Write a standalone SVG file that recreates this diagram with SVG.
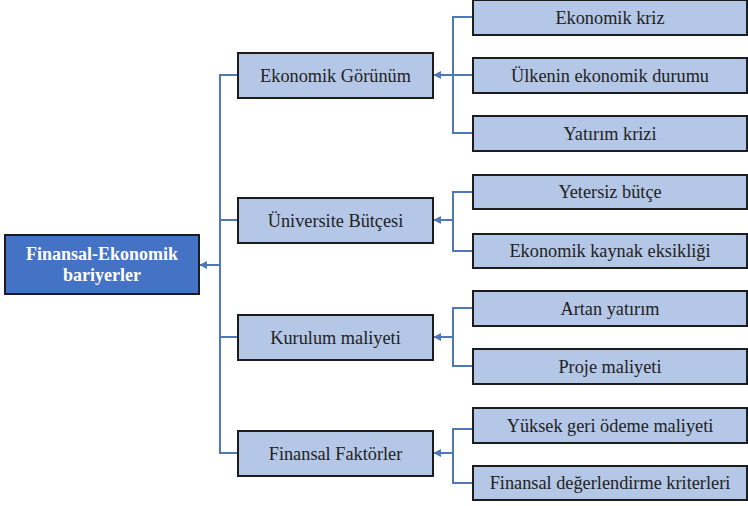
<svg xmlns="http://www.w3.org/2000/svg" width="748" height="506" viewBox="0 0 748 506">
  <defs>
    <marker id="arrow" viewBox="0 0 10 10" refX="9" refY="5" markerWidth="4" markerHeight="4" orient="auto">
      <path d="M0,0 L10,5 L0,10 Z" fill="#4f78b8"/>
    </marker>
  </defs>
  <style>
    .box { fill: #b4c7e7; stroke: #1c1c1c; stroke-width: 2; }
    .root { fill: #4472c4; stroke: #1c1c1c; stroke-width: 2; }
    .lbl { font-family: "Liberation Serif", "DejaVu Serif", serif; font-size: 18.3px; fill: #222; text-anchor: middle; }
    .rlbl { font-family: "Liberation Serif", "DejaVu Serif", serif; font-size: 18px; font-weight: bold; fill: #ffffff; text-anchor: middle; }
    .wire { fill: none; stroke: #4f78b8; stroke-width: 2; }
    .arr { fill: none; stroke: #4f78b8; stroke-width: 2; marker-end: url(#arrow); }
  </style>
  <rect width="748" height="506" fill="#ffffff"/>

  <g id="connectors">
    <!-- trunk from the root to the four categories -->
    <path class="wire" d="M238,75 H220 V453 H238 M220,220 H238 M220,337 H238"/>
    <path class="arr" d="M220,265 H200"/>
    <!-- Ekonomik Görünüm branch -->
    <path class="wire" d="M473,17 H453 V133 H473 M453,75 H473"/>
    <path class="arr" d="M453,75 H434"/>
    <!-- Üniversite Bütçesi branch -->
    <path class="wire" d="M473,192 H453 V251 H473"/>
    <path class="arr" d="M453,220 H434"/>
    <!-- Kurulum maliyeti branch -->
    <path class="wire" d="M473,308 H453 V366 H473"/>
    <path class="arr" d="M453,337 H434"/>
    <!-- Finansal Faktörler branch -->
    <path class="wire" d="M473,429 H453 V483 H473"/>
    <path class="arr" d="M453,453 H434"/>
  </g>

  <g id="root">
    <rect class="root" x="5" y="235" width="194" height="59"/>
    <text class="rlbl" x="102" y="260">Finansal-Ekonomik</text>
    <text class="rlbl" x="102" y="281">bariyerler</text>
  </g>

  <g id="ekonomik-gorunum">
    <rect class="box" x="238" y="53" width="195" height="45"/>
    <text class="lbl" x="335.5" y="81.5">Ekonomik Görünüm</text>
  </g>
  <g id="universite-butcesi">
    <rect class="box" x="238" y="198" width="195" height="45"/>
    <text class="lbl" x="335.5" y="226.5">Üniversite Bütçesi</text>
  </g>
  <g id="kurulum-maliyeti">
    <rect class="box" x="238" y="315" width="195" height="45"/>
    <text class="lbl" x="335.5" y="343.5">Kurulum maliyeti</text>
  </g>
  <g id="finansal-faktorler">
    <rect class="box" x="238" y="431" width="195" height="45"/>
    <text class="lbl" x="335.5" y="459.5">Finansal Faktörler</text>
  </g>

  <g id="ekonomik-kriz">
    <rect class="box" x="473" y="0" width="274" height="35"/>
    <text class="lbl" x="610" y="23.5">Ekonomik kriz</text>
  </g>
  <g id="ulkenin-durumu">
    <rect class="box" x="473" y="58" width="274" height="35"/>
    <text class="lbl" x="610" y="81.5">Ülkenin ekonomik durumu</text>
  </g>
  <g id="yatirim-krizi">
    <rect class="box" x="473" y="116" width="274" height="35"/>
    <text class="lbl" x="610" y="139.5">Yatırım krizi</text>
  </g>
  <g id="yetersiz-butce">
    <rect class="box" x="473" y="175" width="274" height="34"/>
    <text class="lbl" x="610" y="198">Yetersiz bütçe</text>
  </g>
  <g id="kaynak-eksikligi">
    <rect class="box" x="473" y="234" width="274" height="34"/>
    <text class="lbl" x="610" y="257">Ekonomik kaynak eksikliği</text>
  </g>
  <g id="artan-yatirim">
    <rect class="box" x="473" y="291" width="274" height="35"/>
    <text class="lbl" x="610" y="314.5">Artan yatırım</text>
  </g>
  <g id="proje-maliyeti">
    <rect class="box" x="473" y="349" width="274" height="35"/>
    <text class="lbl" x="610" y="372.5">Proje maliyeti</text>
  </g>
  <g id="geri-odeme">
    <rect class="box" x="473" y="408" width="274" height="35"/>
    <text class="lbl" x="610" y="431.5">Yüksek geri ödeme maliyeti</text>
  </g>
  <g id="degerlendirme-kriterleri">
    <rect class="box" x="473" y="466" width="274" height="34"/>
    <text class="lbl" x="610" y="489">Finansal değerlendirme kriterleri</text>
  </g>
</svg>
